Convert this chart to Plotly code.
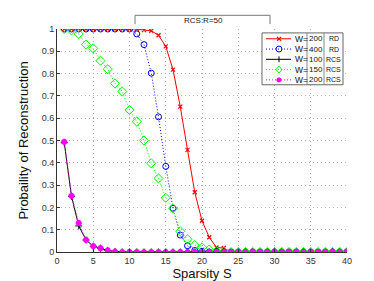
import plotly.graph_objects as go

S = list(range(1, 41))

red_w200_rd = [1.0]*10 + [1.0, 0.995, 0.992, 0.972, 0.922, 0.818, 0.652, 0.458, 0.268, 0.140,
                          0.066, 0.020, 0.018] + [0.0]*17
blue_w400_rd = [1.0]*10 + [0.978, 0.930, 0.802, 0.606, 0.384, 0.196, 0.076, 0.028, 0.007, 0.003] + [0.0]*20
black_w100_rcs = [0.49, 0.25, 0.117, 0.054, 0.026, 0.017, 0.007, 0.002] + [0.0]*32
green_w150_rcs = [1.0, 0.994, 0.978, 0.930, 0.913, 0.858, 0.820, 0.756, 0.720, 0.637, 0.585, 0.500,
                  0.398, 0.330, 0.243, 0.196, 0.093, 0.057, 0.031, 0.021, 0.011, 0.004, 0.002] + [0.0]*17
magenta_w200_rcs = [0.494, 0.252, 0.130, 0.054, 0.026, 0.017, 0.007, 0.002] + [0.0]*32

x_ticks = [0, 5, 10, 15, 20, 25, 30, 35, 40]
y_ticks = [0, 0.1, 0.2, 0.3, 0.4, 0.5, 0.6, 0.7, 0.8, 0.9, 1]

legend_rows = [("W=", "200", "RD"), ("W=", "400", "RD"), ("W=", "100", "RCS"),
               ("W=", "150", "RCS"), ("W=", "200", "RCS")]

W, H = 374, 281
L, R, T, B = 49, 339, 21, 249
FONT = "Liberation Sans, Arial, sans-serif"
DOT = "1px,2px"

fig = go.Figure()
fig.add_trace(go.Scatter(x=S, y=red_w200_rd, mode="lines+markers",
                         line=dict(color="#ff0000", width=1),
                         marker=dict(symbol="x-thin-open", size=4, line=dict(color="#ff0000", width=1.2))))
fig.add_trace(go.Scatter(x=S, y=blue_w400_rd, mode="lines+markers",
                         line=dict(color="#0000ff", width=1, dash=DOT),
                         marker=dict(symbol="circle-open", size=6, color="#0000ff", line=dict(width=1))))
fig.add_trace(go.Scatter(x=S, y=black_w100_rcs, mode="lines+markers",
                         line=dict(color="#000000", width=1),
                         marker=dict(symbol="cross-thin-open", size=5, line=dict(color="#000000", width=1))))
fig.add_trace(go.Scatter(x=S, y=green_w150_rcs, mode="lines+markers",
                         line=dict(color="#00ff00", width=1, dash=DOT),
                         marker=dict(symbol="diamond-open", size=7, color="#00ff00", line=dict(width=1))))
fig.add_trace(go.Scatter(x=S, y=magenta_w200_rcs, mode="lines+markers",
                         line=dict(color="#ff00ff", width=1, dash=DOT),
                         marker=dict(symbol="asterisk-open", size=5, line=dict(color="#ff00ff", width=2))))


def px(x):
    return (x - L) / (R - L)


def py(y):
    return (B - y) / (B - T)


shapes = []
annotations = []

# top bracket box
shapes.append(dict(type="path", xref="paper", yref="paper",
                   path=f"M {px(127)} {py(16)} L {px(127)} {py(7)} L {px(262)} {py(7)} L {px(262)} {py(16)}",
                   line=dict(color="#777777", width=1)))
annotations.append(dict(x=px(195), y=py(12), xref="paper", yref="paper", text="RCS:R=50",
                        xanchor="center", yanchor="middle",
                        showarrow=False, font=dict(size=8, color="#222222", family=FONT)))

# legend box
lx0, lx1, ly0, ly1 = 254, 335, 25, 78
shapes.append(dict(type="rect", xref="paper", yref="paper", x0=px(lx0), x1=px(lx1), y0=py(ly1), y1=py(ly0),
                   line=dict(color="#666666", width=1), fillcolor="white", layer="above"))
for sx in (299, 316):
    shapes.append(dict(type="line", xref="paper", yref="paper", x0=px(sx), x1=px(sx), y0=py(ly1), y1=py(ly0),
                       line=dict(color="#888888", width=1), layer="above"))

colors = ["#ff0000", "#0000ff", "#000000", "#00ff00", "#ff00ff"]
dashes = ["solid", DOT, "solid", DOT, DOT]
row_y = [31, 41.5, 52, 62.5, 73]
for i, (w, n, t) in enumerate(legend_rows):
    yy = row_y[i]
    shapes.append(dict(type="line", xref="paper", yref="paper", x0=px(258), x1=px(283), y0=py(yy), y1=py(yy),
                       line=dict(color=colors[i], width=1, dash=dashes[i]), layer="above"))
    cx = 271
    c = colors[i]
    if i == 0:
        for a, b2 in ((-2, -2), (-2, 2)):
            shapes.append(dict(type="line", xref="paper", yref="paper", x0=px(cx + a), x1=px(cx - a),
                               y0=py(yy + b2), y1=py(yy - b2), line=dict(color=c, width=1.2), layer="above"))
    elif i == 1:
        shapes.append(dict(type="circle", xref="paper", yref="paper", x0=px(cx - 3), x1=px(cx + 3),
                           y0=py(yy + 3), y1=py(yy - 3), line=dict(color=c, width=1), layer="above"))
    elif i == 2:
        shapes.append(dict(type="line", xref="paper", yref="paper", x0=px(cx), x1=px(cx),
                           y0=py(yy + 3), y1=py(yy - 3), line=dict(color=c, width=1), layer="above"))
    elif i == 3:
        shapes.append(dict(type="path", xref="paper", yref="paper",
                           path=f"M {px(cx)} {py(yy-3.5)} L {px(cx+3)} {py(yy)} L {px(cx)} {py(yy+3.5)} L {px(cx-3)} {py(yy)} Z",
                           line=dict(color=c, width=1), layer="above"))
    else:
        for a, b2 in ((0, 2.5), (-2.2, 1.3), (-2.2, -1.3)):
            shapes.append(dict(type="line", xref="paper", yref="paper", x0=px(cx + a), x1=px(cx - a),
                               y0=py(yy + b2), y1=py(yy - b2), line=dict(color=c, width=2), layer="above"))
    annotations.append(dict(x=px(285), y=py(yy), xref="paper", yref="paper", text=w, showarrow=False,
                            xanchor="left", yanchor="middle", font=dict(size=8.5, color="#111111", family=FONT)))
    annotations.append(dict(x=px(307.5), y=py(yy), xref="paper", yref="paper", text=n, showarrow=False,
                            xanchor="center", yanchor="middle", font=dict(size=8, color="#111111", family=FONT)))
    annotations.append(dict(x=px(325.5), y=py(yy), xref="paper", yref="paper", text=t, showarrow=False,
                            xanchor="center", yanchor="middle", font=dict(size=7, color="#111111", family=FONT)))

fig.update_layout(
    width=W, height=H,
    margin=dict(l=L, r=W - R, t=T, b=H - B),
    paper_bgcolor="white", plot_bgcolor="white",
    showlegend=False,
    font=dict(family=FONT, color="#222222"),
    shapes=shapes, annotations=annotations,
    xaxis=dict(range=[0, 40], tickvals=x_ticks, ticks="inside", ticklen=3, tickcolor="#333333",
               showline=True, linecolor="#333333", linewidth=1, mirror=False,
               showgrid=True, gridcolor="#b0b0b0", griddash="1px,3px", gridwidth=1, zeroline=False,
               tickfont=dict(size=9, color="#333333"),
               title=dict(text="Sparsity S", font=dict(size=13, color="#111111"), standoff=2)),
    yaxis=dict(range=[0, 1], tickvals=y_ticks, ticks="inside", ticklen=3, tickcolor="#333333",
               showline=True, linecolor="#333333", linewidth=1, mirror=False,
               showgrid=True, gridcolor="#b0b0b0", griddash="1px,3px", gridwidth=1, zeroline=False,
               tickfont=dict(size=9, color="#333333"),
               title=dict(text="Probaility of Reconstruction", font=dict(size=13, color="#111111"), standoff=10)),
)

fig.write_html("out.html")
